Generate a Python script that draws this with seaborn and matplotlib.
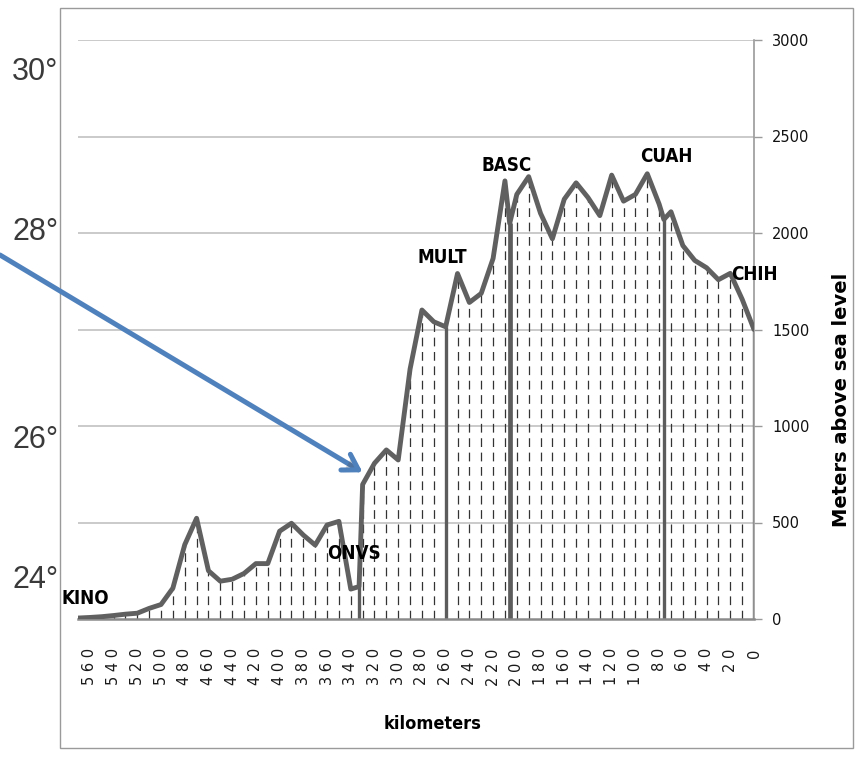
import matplotlib
matplotlib.use("Agg")
import matplotlib.pyplot as plt
import matplotlib.patheffects as pe
from matplotlib import font_manager
from matplotlib.font_manager import FontProperties
from matplotlib.patches import Rectangle
import pandas as pd
import seaborn as sns

# Elevation profile of the route, distance in km before Chihuahua
km = [570, 560, 550, 540, 530, 520, 510, 500, 490, 480, 470, 460, 450, 440,
      430, 420, 410, 400, 390, 380, 370, 360, 350, 340, 333, 330, 320, 310,
      300, 290, 280, 270, 260, 250, 240, 230, 220, 210, 206, 200, 190, 180,
      170, 160, 150, 140, 130, 120, 110, 100, 90, 80, 76, 70, 60, 50, 40, 30,
      20, 10, 0]
elevation = [5, 8, 12, 18, 25, 30, 55, 75, 160, 385, 522, 250, 196, 206,
             236, 287, 287, 455, 496, 435, 383, 487, 506, 155, 168, 697, 807,
             876, 824, 1295, 1601, 1540, 1514, 1790, 1640, 1687, 1868, 2270,
             2050, 2200, 2292, 2102, 1970, 2175, 2260, 2184, 2090, 2300, 2165,
             2200, 2307, 2150, 2070, 2110, 1935, 1858, 1820, 1758, 1791, 1657,
             1500]

# Stations along the route
stations = ["KINO", "ONVS", "MULT", "BASC", "CUAH", "CHIH"]
station_km = [570, 333, 260, 206, 76, 0]

x_ticks = list(range(560, -1, -20))
y_ticks = [0, 500, 1000, 1500, 2000, 2500, 3000]
latitudes = ["30°", "28°", "26°", "24°"]

profile = pd.DataFrame({"km": km, "elevation": elevation})
survey = profile[profile["km"] % 10 == 0]
station_elev = [profile.set_index("km").loc[k, "elevation"] for k in station_km]

sns.set_theme(style="white")
plt.rcParams["font.family"] = ["DejaVu Sans"]


def condensed_bold(size):
    """Pick a narrow bold face if one is installed."""
    def is_narrow(f):
        st = f.stretch
        if isinstance(st, str):
            narrow = "condensed" in st
        else:
            narrow = st < 500
        return narrow or "Narrow" in f.name or "Condensed" in f.name
    fonts = [f for f in font_manager.fontManager.ttflist if is_narrow(f)]
    def wnum(f):
        w = f.weight
        if isinstance(w, str):
            return {"bold": 700, "semibold": 600, "demibold": 600,
                    "heavy": 800, "black": 900}.get(w, 400)
        return w
    bold = [f for f in fonts if wnum(f) >= 600 and f.style == "normal"]
    pool = bold or fonts
    if pool:
        pool.sort(key=lambda f: (0 if "Liberation" in f.name else 1,
                                 abs(wnum(f) - 700)))
        return FontProperties(fname=pool[0].fname, size=size)
    return FontProperties(family="Liberation Sans", weight="bold", size=size)


W, H = 866, 779
fig = plt.figure(figsize=(W / 100, H / 100), dpi=100)
fig.patch.set_facecolor("white")

# chart frame sitting over the map labels
frame = Rectangle((60 / W, 1 - 748 / H), 793 / W, 740 / H,
                  transform=fig.transFigure, facecolor="white",
                  edgecolor="#9a9a9a", lw=1.0, zorder=1)
fig.patches.append(frame)

for lab, ypix in zip(latitudes, [72, 232, 440, 580]):
    fig.text(12 / W, 1 - ypix / H, lab, fontsize=22, color="#3a3a3a",
             family="Liberation Sans", va="center", ha="left", zorder=0.5)

ax = fig.add_axes([78 / W, 1 - 619 / H, 676 / W, 579 / H])
ax.set_zorder(2)
ax.patch.set_alpha(0)

ax.set_xlim(570, 0)
ax.set_ylim(0, 3000)

# horizontal grid
for v in y_ticks[1:]:
    ax.axhline(v, color="#c6c6c6", lw=1.3, zorder=0)

# dashed drop lines at every survey point
ax.vlines(survey["km"], 0, survey["elevation"], colors="#333333",
          linestyles=(0, (7, 4.5)), lw=0.9, zorder=1)

# solid lines at stations
for name, k, e in zip(stations, station_km, station_elev):
    ax.vlines(k, 0, e, colors="#5c5c5c", lw=3.4 if name == "BASC" else 2.4,
              zorder=2)

sns.lineplot(data=profile, x="km", y="elevation", ax=ax, color="#606060",
             lw=3.5, estimator=None, errorbar=None, zorder=3,
             solid_joinstyle="round", solid_capstyle="round")

fp_station = condensed_bold(13.5)
label_pos = {"KINO": (564, 106), "ONVS": (337, 340), "MULT": (263, 1873),
             "BASC": (209, 2352), "CUAH": (74, 2398), "CHIH": (0, 1787)}
for name in stations:
    x, y = label_pos[name]
    ax.text(x, y, name, ha="center", va="center", color="black",
            zorder=4, fontproperties=fp_station)

# axes styling
for s in ["top", "left"]:
    ax.spines[s].set_visible(False)
ax.spines["right"].set_color("#9a9a9a")
ax.spines["right"].set_linewidth(1.2)
ax.spines["bottom"].set_color("#8a8a8a")
ax.spines["bottom"].set_linewidth(1.8)

ax.yaxis.tick_right()
ax.yaxis.set_label_position("right")
ax.set_yticks(y_ticks)
ax.set_yticklabels([str(v) for v in y_ticks])
ax.tick_params(axis="y", which="both", direction="out", length=6, width=1,
               color="#9a9a9a", pad=7, labelsize=10.5, labelcolor="#111111",
               right=True, left=False)

ax.set_xticks(x_ticks)
ax.set_xticklabels([" ".join(str(v)) for v in x_ticks], rotation=90)
ax.tick_params(axis="x", length=0, pad=21, labelsize=10.5, labelcolor="#1a1a1a")

fp_xlabel = condensed_bold(13)
ax.set_xlabel("kilometers", color="black", fontproperties=fp_xlabel)
ax.xaxis.set_label_coords((433 - 78) / 676, -(715 - 619) / 579)
ax.set_ylabel("Meters above sea level", fontsize=14, fontweight="bold",
              color="black")
ax.yaxis.set_label_coords((832 - 78) / 676, (619 - 400) / 579)

# pointer to the ONVS climb
ax.annotate("", xy=(330, 760), xycoords="data",
            xytext=(0, 1 - 255 / H), textcoords="figure fraction",
            arrowprops=dict(arrowstyle="->,head_length=0.9,head_width=0.55",
                            color="#4f81bd", lw=3.6, shrinkA=0, shrinkB=0,
                            path_effects=[pe.SimplePatchShadow(offset=(1.5, -1.5),
                                                               alpha=0.25),
                                          pe.Normal()]),
            zorder=6)

fig.savefig("out.png", dpi=100, facecolor="white")
